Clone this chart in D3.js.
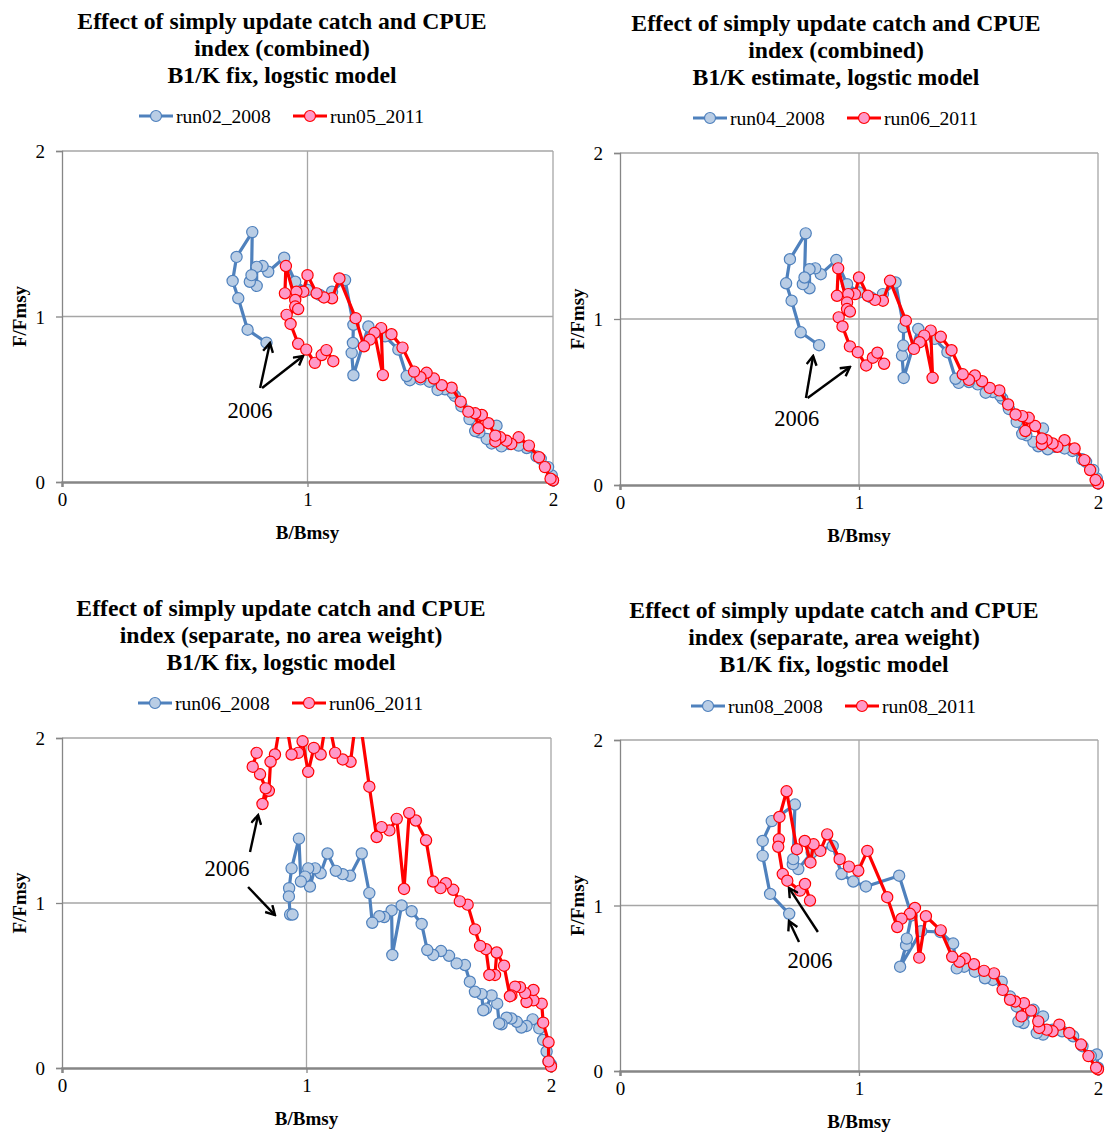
<!DOCTYPE html>
<html><head><meta charset="utf-8">
<script src="https://cdn.jsdelivr.net/npm/d3@7"></script>
<style>body{margin:0;background:#fff}svg text{font-family:"Liberation Serif","Times New Roman",serif}</style>
</head><body>
<svg id="c" width="1109" height="1133"></svg>
<script>
// ---------- data (B/Bmsy, F/Fmsy) ----------
const xTicks = [0, 1, 2];
const yTicks = [0, 1, 2];

const titles1 = ["Effect of simply update catch and CPUE", "index (combined)", "B1/K fix, logstic model"];
const titles2 = ["Effect of simply update catch and CPUE", "index (combined)", "B1/K estimate, logstic model"];
const titles3 = ["Effect of simply update catch and CPUE", "index (separate, no area weight)", "B1/K fix, logstic model"];
const titles4 = ["Effect of simply update catch and CPUE", "index (separate, area weight)", "B1/K fix, logstic model"];

const names1 = ["run02_2008", "run05_2011"];
const names2 = ["run04_2008", "run06_2011"];
const names3 = ["run06_2008", "run06_2011"];
const names4 = ["run08_2008", "run08_2011"];

const blue1 = [[2.0,0.01],[1.995,0.04],[1.98,0.09],[1.95,0.14],[1.933,0.155],[1.893,0.205],[1.86,0.22],[1.82,0.23],[1.79,0.215],[1.77,0.34],[1.75,0.233],[1.73,0.26],[1.70,0.30],[1.683,0.308],[1.66,0.38],[1.627,0.458],[1.60,0.52],[1.59,0.54],[1.56,0.56],[1.53,0.556],[1.497,0.606],[1.46,0.62],[1.417,0.615],[1.404,0.64],[1.37,0.80],[1.316,0.88],[1.248,0.94],[1.187,0.645],[1.18,0.78],[1.185,0.84],[1.187,0.95],[1.153,1.22],[1.10,1.15],[1.05,1.13],[1.0,1.16],[0.95,1.21],[0.905,1.355],[0.84,1.27],[0.817,1.305],[0.793,1.30],[0.793,1.185],[0.765,1.21],[0.772,1.25],[0.775,1.51],[0.711,1.36],[0.695,1.215],[0.718,1.11],[0.756,0.92],[0.833,0.842]];
const red1 = [[2.0,0.01],[1.99,0.02],[1.967,0.09],[1.943,0.15],[1.902,0.22],[1.86,0.27],[1.83,0.23],[1.81,0.25],[1.785,0.27],[1.765,0.245],[1.765,0.28],[1.737,0.355],[1.71,0.405],[1.696,0.325],[1.683,0.415],[1.655,0.425],[1.624,0.485],[1.587,0.57],[1.547,0.585],[1.515,0.625],[1.485,0.66],[1.46,0.633],[1.434,0.667],[1.387,0.812],[1.342,0.893],[1.30,0.93],[1.307,0.646],[1.273,0.90],[1.254,0.86],[1.23,0.82],[1.196,0.99],[1.13,1.23],[1.10,1.11],[1.067,1.115],[1.037,1.14],[1.0,1.25],[0.983,1.15],[0.955,1.15],[0.908,1.14],[0.912,1.305],[0.95,1.10],[0.95,1.06],[0.962,1.045],[0.915,1.01],[0.931,0.955],[0.962,0.835],[0.995,0.80],[1.03,0.72],[1.058,0.767],[1.077,0.797],[1.105,0.73]];

const blue2 = [[2.0,0.01],[1.995,0.04],[1.98,0.09],[1.95,0.14],[1.933,0.155],[1.893,0.205],[1.86,0.22],[1.82,0.23],[1.79,0.215],[1.77,0.34],[1.75,0.233],[1.73,0.26],[1.70,0.30],[1.683,0.308],[1.66,0.38],[1.627,0.458],[1.60,0.52],[1.59,0.54],[1.56,0.56],[1.53,0.556],[1.497,0.606],[1.46,0.62],[1.417,0.615],[1.404,0.64],[1.37,0.80],[1.316,0.88],[1.248,0.94],[1.187,0.645],[1.18,0.78],[1.185,0.84],[1.187,0.95],[1.153,1.22],[1.10,1.15],[1.05,1.13],[1.0,1.16],[0.95,1.21],[0.905,1.355],[0.84,1.27],[0.817,1.305],[0.793,1.30],[0.793,1.185],[0.765,1.21],[0.772,1.25],[0.777,1.516],[0.711,1.36],[0.695,1.215],[0.718,1.11],[0.756,0.92],[0.833,0.842]];
const red2 = [[2.0,0.01],[1.99,0.03],[1.967,0.09],[1.943,0.15],[1.902,0.22],[1.86,0.27],[1.83,0.23],[1.81,0.25],[1.785,0.27],[1.765,0.245],[1.765,0.28],[1.737,0.355],[1.71,0.405],[1.696,0.325],[1.683,0.415],[1.655,0.425],[1.624,0.485],[1.587,0.57],[1.547,0.585],[1.515,0.625],[1.485,0.66],[1.46,0.633],[1.434,0.667],[1.387,0.812],[1.342,0.893],[1.30,0.93],[1.308,0.646],[1.273,0.90],[1.254,0.86],[1.23,0.82],[1.196,0.99],[1.13,1.23],[1.10,1.11],[1.067,1.115],[1.037,1.14],[1.0,1.25],[0.983,1.15],[0.955,1.15],[0.908,1.14],[0.913,1.305],[0.95,1.10],[0.95,1.06],[0.962,1.045],[0.915,1.01],[0.931,0.955],[0.962,0.835],[0.995,0.80],[1.03,0.72],[1.058,0.767],[1.077,0.797],[1.105,0.73]];

const blue3 = [[2.0,0.02],[1.99,0.04],[1.982,0.10],[1.968,0.17],[1.952,0.24],[1.925,0.295],[1.90,0.255],[1.879,0.245],[1.86,0.28],[1.838,0.30],[1.818,0.305],[1.798,0.265],[1.788,0.27],[1.78,0.39],[1.757,0.44],[1.734,0.36],[1.723,0.35],[1.716,0.448],[1.689,0.462],[1.668,0.523],[1.648,0.624],[1.614,0.634],[1.583,0.68],[1.55,0.709],[1.518,0.685],[1.494,0.715],[1.471,0.873],[1.43,0.95],[1.389,0.985],[1.351,0.685],[1.348,0.955],[1.318,0.915],[1.298,0.92],[1.269,0.88],[1.257,1.06],[1.226,1.30],[1.178,1.165],[1.148,1.175],[1.12,1.195],[1.086,1.30],[1.058,1.18],[1.035,1.21],[1.014,1.10],[1.007,1.21],[0.994,1.16],[0.977,1.13],[0.969,1.39],[0.939,1.21],[0.929,1.09],[0.928,1.04],[0.933,0.93],[0.943,0.93]];
const red3 = [[2.0,0.01],[1.99,0.04],[1.99,0.156],[1.968,0.275],[1.962,0.39],[1.928,0.41],[1.928,0.473],[1.90,0.40],[1.894,0.454],[1.873,0.49],[1.853,0.493],[1.838,0.44],[1.832,0.435],[1.808,0.62],[1.778,0.70],[1.771,0.564],[1.748,0.564],[1.734,0.72],[1.71,0.74],[1.689,0.84],[1.659,0.99],[1.627,1.01],[1.60,1.08],[1.57,1.12],[1.548,1.09],[1.518,1.13],[1.489,1.38],[1.447,1.50],[1.42,1.545],[1.399,1.085],[1.369,1.51],[1.339,1.44],[1.307,1.46],[1.287,1.40],[1.257,1.705],[1.21,2.2],[1.18,1.856],[1.148,1.87],[1.117,1.91],[1.085,2.15],[1.058,1.90],[1.03,1.94],[1.007,1.795],[0.984,1.98],[0.966,1.91],[0.939,1.90],[0.905,2.2],[0.871,1.90],[0.853,1.856],[0.846,1.68],[0.82,1.60],[0.833,1.695],[0.81,1.78],[0.78,1.826],[0.796,1.91]];

const blue4 = [[2.0,0.02],[1.995,0.10],[1.97,0.09],[1.935,0.15],[1.896,0.21],[1.85,0.24],[1.81,0.25],[1.77,0.22],[1.77,0.33],[1.744,0.23],[1.73,0.37],[1.688,0.29],[1.667,0.30],[1.66,0.39],[1.632,0.45],[1.597,0.54],[1.56,0.55],[1.527,0.56],[1.485,0.60],[1.44,0.63],[1.409,0.62],[1.394,0.77],[1.34,0.84],[1.26,0.845],[1.172,0.63],[1.197,0.76],[1.20,0.80],[1.22,0.94],[1.168,1.18],[1.029,1.115],[0.976,1.145],[0.927,1.19],[0.89,1.36],[0.802,1.32],[0.746,1.22],[0.723,1.25],[0.725,1.28],[0.732,1.61],[0.635,1.51],[0.597,1.39],[0.597,1.30],[0.628,1.07],[0.708,0.95]];
const red4 = [[2.0,0.01],[1.992,0.02],[1.96,0.09],[1.929,0.16],[1.88,0.23],[1.838,0.28],[1.81,0.24],[1.785,0.25],[1.754,0.26],[1.75,0.30],[1.72,0.365],[1.68,0.33],[1.69,0.41],[1.653,0.42],[1.632,0.43],[1.601,0.49],[1.565,0.59],[1.523,0.605],[1.481,0.645],[1.443,0.68],[1.42,0.66],[1.39,0.69],[1.342,0.85],[1.28,0.935],[1.252,0.685],[1.234,0.985],[1.213,0.95],[1.178,0.92],[1.16,0.87],[1.118,1.05],[1.035,1.33],[0.997,1.21],[0.958,1.235],[0.919,1.28],[0.867,1.43],[0.838,1.33],[0.81,1.37],[0.797,1.26],[0.773,1.39],[0.74,1.34],[0.697,1.69],[0.667,1.535],[0.665,1.40],[0.662,1.355],[0.681,1.19],[0.70,1.15],[0.753,1.09],[0.774,1.13],[0.795,1.03]];

// annotation "2006": label position and arrows [from, to] in data coords
const note1 = {label:[0.766,0.43], arrows:[[[0.807,0.568],[0.847,0.84]],[[0.815,0.568],[0.982,0.761]]]};
const note2 = {label:[0.74,0.40], arrows:[[[0.778,0.524],[0.808,0.777]],[[0.785,0.524],[0.962,0.711]]]};
const note3 = {label:[0.675,1.212], arrows:[[[0.769,1.309],[0.802,1.533]],[[0.761,1.097],[0.871,0.927]]]};
const note4 = {label:[0.795,0.665], arrows:[[[0.749,0.779],[0.707,0.906]],[[0.828,0.84],[0.707,1.106]]]};

// ---------- layout ----------
const panels = [
  {titles:titles1,names:names1,blue:blue1,red:red1,note:note1,x0:62,x1:553,y0:482,y1:151,tx:282,ty:29,ly:116},
  {titles:titles2,names:names2,blue:blue2,red:red2,note:note2,x0:620,x1:1098,y0:485,y1:153,tx:836,ty:31,ly:118},
  {titles:titles3,names:names3,blue:blue3,red:red3,note:note3,x0:62,x1:551,y0:1068,y1:738,tx:281,ty:616,ly:703},
  {titles:titles4,names:names4,blue:blue4,red:red4,note:note4,x0:620,x1:1098,y0:1071,y1:740,tx:834,ty:618,ly:706}
];

const BLUE="#4F81BD", BLUEF="#B9CDE5", RED="#FF0000", REDF="#FF99C8", GRID="#a6a6a6";
const svg = d3.select("#c");
const defs = svg.append("defs");
defs.append("marker").attr("id","arr").attr("viewBox","0 0 12 12").attr("refX",10).attr("refY",6)
  .attr("markerWidth",12).attr("markerHeight",12).attr("markerUnits","userSpaceOnUse").attr("orient","auto")
  .append("path").attr("d","M1,1 L10,6 L1,11").attr("fill","none").attr("stroke","#000").attr("stroke-width",2.4);

panels.forEach((p,i)=>{
  const g = svg.append("g");
  const x = d3.scaleLinear().domain([0,2]).range([p.x0,p.x1]);
  const y = d3.scaleLinear().domain([0,2]).range([p.y0,p.y1]);

  // title
  p.titles.forEach((t,k)=>g.append("text").attr("x",p.tx).attr("y",p.ty+k*27).attr("text-anchor","middle")
    .attr("font-size",23.7).attr("font-weight","bold").text(t));

  // legend: marker line 34px, text ~95px, gap 22px
  const itemW = 34+3+95, gap = 22;
  const lx = p.tx - (2*itemW+gap)/2;
  [[BLUE,BLUEF,p.names[0]],[RED,REDF,p.names[1]]].forEach((s,k)=>{
    const ox = lx + k*(itemW+gap);
    g.append("line").attr("x1",ox).attr("x2",ox+34).attr("y1",p.ly).attr("y2",p.ly).attr("stroke",s[0]).attr("stroke-width",3);
    g.append("circle").attr("cx",ox+17).attr("cy",p.ly).attr("r",5.5).attr("fill",s[1]).attr("stroke",s[0]).attr("stroke-width",1.2);
    g.append("text").attr("x",ox+37).attr("y",p.ly+6.5).attr("font-size",19.6).text(s[2]);
  });

  // grid
  g.selectAll(".vg").data(xTicks.filter(d=>d>0)).join("line").attr("x1",d=>x(d)).attr("x2",d=>x(d))
    .attr("y1",y(0)).attr("y2",y(2)).attr("stroke",GRID).attr("stroke-width",1.3);
  g.selectAll(".hg").data(yTicks.filter(d=>d>0)).join("line").attr("x1",x(0)).attr("x2",x(2))
    .attr("y1",d=>y(d)).attr("y2",d=>y(d)).attr("stroke",GRID).attr("stroke-width",1.3);

  // axes
  const ax = g.append("g").attr("transform",`translate(0,${y(0)})`)
    .call(d3.axisBottom(x).tickValues(xTicks).tickSize(5).tickPadding(6).tickFormat(d3.format("d")));
  ax.select(".domain").attr("stroke","#868686").attr("stroke-width",2.4);
  ax.selectAll(".tick line").attr("stroke","#868686").attr("stroke-width",1.3);
  ax.selectAll("text").attr("font-size",19).attr("fill","#000").attr("font-family","Liberation Serif");
  const ay = g.append("g").attr("transform",`translate(${x(0)},0)`)
    .call(d3.axisLeft(y).tickValues(yTicks).tickSize(6).tickPadding(11).tickFormat(d3.format("d")));
  ay.select(".domain").attr("stroke","#868686").attr("stroke-width",1.3);
  ay.selectAll(".tick line").attr("stroke","#868686").attr("stroke-width",1.3);
  ay.selectAll("text").attr("font-size",19).attr("fill","#000").attr("font-family","Liberation Serif").attr("dy","0.35em");

  // axis titles
  g.append("text").attr("x",x(1)).attr("y",p.y0+57).attr("text-anchor","middle").attr("font-size",19)
    .attr("font-weight","bold").text("B/Bmsy");
  g.append("text").attr("transform",`translate(${p.x0-36},${y(1)}) rotate(-90)`).attr("text-anchor","middle")
    .attr("font-size",19).attr("font-weight","bold").text("F/Fmsy");

  // series: each series draws its line (clipped) then its markers; red drawn after blue
  defs.append("clipPath").attr("id","clip"+i).append("rect").attr("x",x(0)).attr("y",y(2)-1)
    .attr("width",x(2)-x(0)+2).attr("height",y(0)-y(2)+2);
  const line = d3.line().x(d=>x(d[0])).y(d=>y(d[1]));
  [[p.blue,BLUE,BLUEF],[p.red,RED,REDF]].forEach(s=>{
    g.append("path").datum(s[0]).attr("d",line).attr("fill","none").attr("stroke",s[1]).attr("stroke-width",3.2)
      .attr("stroke-linejoin","round").attr("clip-path",`url(#clip${i})`);
    g.append("g").selectAll("circle").data(s[0].filter(d=>d[1]<=2.02)).join("circle")
      .attr("cx",d=>x(d[0])).attr("cy",d=>y(d[1]))
      .attr("r",5.6).attr("fill",s[2]).attr("stroke",s[1]).attr("stroke-width",1.2);
  });

  // annotation
  g.append("text").attr("x",x(p.note.label[0])).attr("y",y(p.note.label[1])+7.5).attr("text-anchor","middle")
    .attr("font-size",22.5).text("2006");
  p.note.arrows.forEach(a=>g.append("line").attr("x1",x(a[0][0])).attr("y1",y(a[0][1]))
    .attr("x2",x(a[1][0])).attr("y2",y(a[1][1])).attr("stroke","#000").attr("stroke-width",2.4).attr("marker-end","url(#arr)"));
});
</script>
</body></html>
